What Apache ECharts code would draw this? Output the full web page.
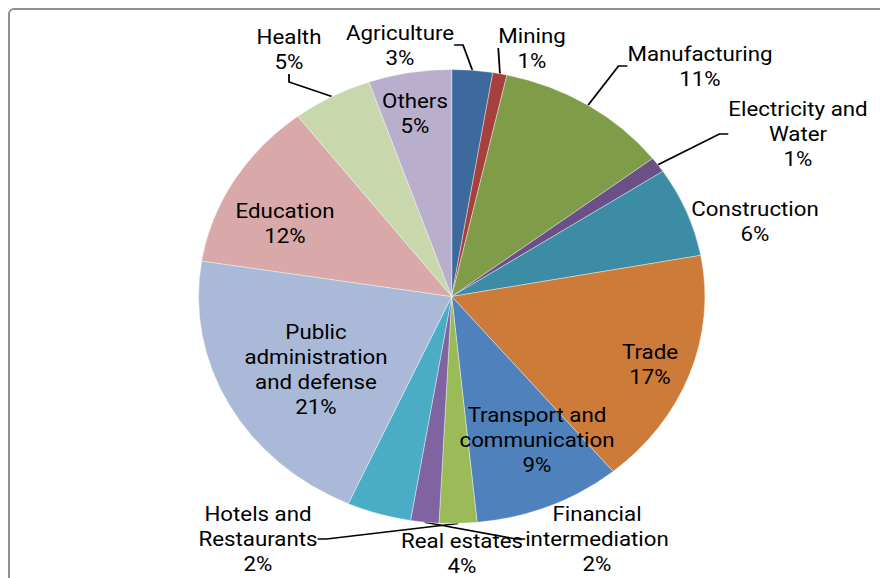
<!DOCTYPE html>
<html><head><meta charset="utf-8">
<script src="https://cdn.jsdelivr.net/npm/echarts@6/dist/echarts.min.js"></script>
<style>
html,body{margin:0;padding:0;background:#fff;overflow:hidden;width:880px;height:578px;}
#frame{position:absolute;left:8px;top:8px;width:920px;height:640px;border:2px solid #8e8e8e;border-radius:6px;box-sizing:border-box;}
#chart{position:absolute;left:0;top:0;width:789px;height:578px;transform:scaleX(1.11534);transform-origin:0 0;}
</style></head><body>
<div id="frame"></div>
<div id="chart"></div>
<script>
// ---- data ----
const categories = [
  'Agriculture', 'Mining', 'Manufacturing', 'Electricity and\nWater', 'Construction',
  'Trade', 'Transport and\ncommunication', 'Hotels and\nRestaurants', 'Financial\nintermediation',
  'Real estates', 'Public\nadministration\nand defense', 'Education', 'Health', 'Others'
];
const shares = [2.6, 0.9, 11.1, 1.1, 6.4, 16.9, 9.4, 2.4, 1.8, 4.1, 20.8, 12.1, 5.1, 5.3];

// ---- styling ----
const colors = ['#3D6A9D', '#A6403D', '#7F9C49', '#6A5087', '#3B8CA4', '#CD7B38', '#4F81BD',
  '#9BBB59', '#8064A2', '#4BACC6', '#A9B9D7', '#D8A9A8', '#C8D7AC', '#B9AECC'];
const SCALE = 880 / 789;
// label centres in page pixels
const labelPos = [
  [400, 45], [532, 48], [700, 66], [798, 134], [755, 221], [650, 364], [537, 440],
  [258, 539], [597, 539], [462, 553], [316, 369], [285, 223], [289, 49], [415, 113]
];
const hasLeader = [true, true, true, true, false, false, false, true, true, false, false, false, true, false];

const chart = echarts.init(document.getElementById('chart'), null, { renderer: 'svg' });
chart.setOption({
  backgroundColor: 'transparent',
  animation: false,
  series: [{
    type: 'pie',
    center: [405, 296.5],
    radius: 227,
    startAngle: 90,
    clockwise: true,
    avoidLabelOverlap: false,
    data: categories.map((c, i) => ({
      name: c,
      value: shares[i],
      itemStyle: { color: colors[i] },
      labelLine: { show: hasLeader[i] }
    })),
    itemStyle: { borderColor: 'rgba(255,255,255,0.6)', borderWidth: 0.6 },
    label: {
      show: true,
      position: 'outside',
      formatter: p => p.name + '\n' + Math.round(p.percent) + '%',
      fontFamily: 'Roboto',
      fontSize: 20,
      lineHeight: 25,
      color: '#000',
      align: 'center'
    },
    labelLine: {
      show: true,
      length: 10,
      length2: 8,
      lineStyle: { color: '#000', width: 1.6 }
    },
    labelLayout: function (params) {
      const p = labelPos[params.dataIndex];
      return { x: p[0] / SCALE, y: p[1], align: 'center', verticalAlign: 'middle' };
    }
  }]
});
</script>
</body></html>
